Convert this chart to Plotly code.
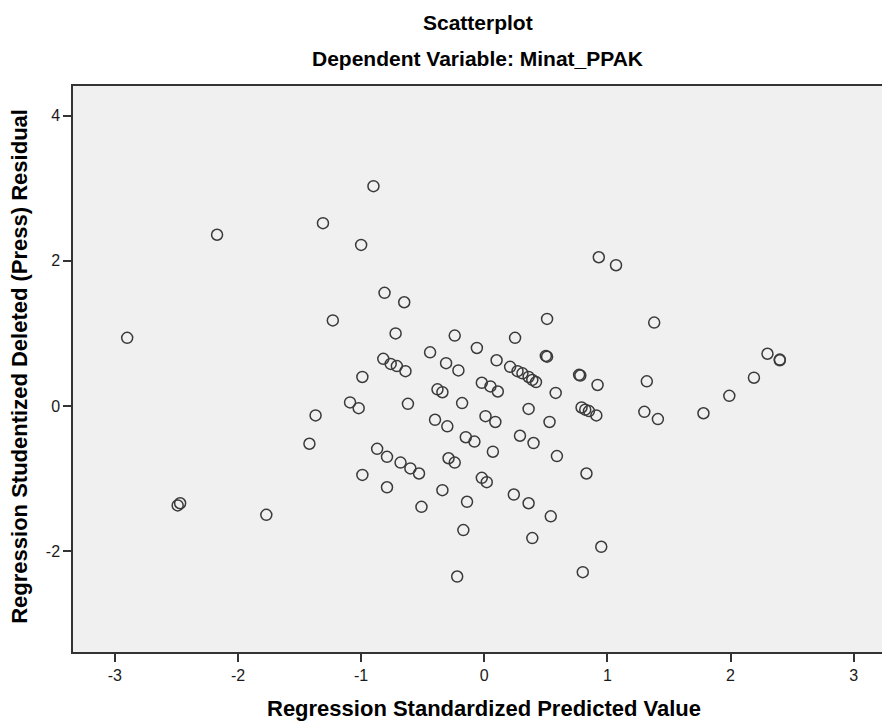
import plotly.graph_objects as go

# Regression Standardized Predicted Value
pred = [
    -2.90, -2.17, -1.31, -1.23, -0.90, -1.00, -0.81, -0.65, -0.72, -0.24,
    0.51, 0.25, -0.06, -0.44, 0.50, 0.51, 0.93, 1.07, 1.38, 2.30,
    2.40, 2.40, -1.37, -1.42, -2.49, -2.47, -1.77, -0.82, -0.76, -0.71,
    -0.64, -0.99, -0.31, -0.21, 0.10, 0.21, 0.27, 0.31, 0.36, 0.39,
    0.42, 0.58, -0.38, -0.34, -0.02, 0.05, 0.11, -1.09, -1.02, -0.62,
    -0.18, 0.36, -0.40, -0.30, 0.01, 0.09, 0.53, -0.15, -0.08, 0.29,
    0.40, 0.07, 0.59, -0.87, -0.79, -0.68, -0.60, -0.53, -0.99, -0.29,
    -0.24, -0.79, -0.02, 0.02, -0.34, -0.14, -0.51, 0.24, 0.36, 0.54,
    -0.17, 0.39, 0.77, 0.78, 0.92, 1.32, 2.19, 1.99, 0.79, 0.82,
    0.85, 0.91, 1.30, 1.41, 1.78, 0.83, 0.95, 0.80, -0.22,
]

# Regression Studentized Deleted (Press) Residual
resid = [
    0.94, 2.36, 2.52, 1.18, 3.03, 2.22, 1.56, 1.43, 1.00, 0.97,
    1.20, 0.94, 0.80, 0.74, 0.69, 0.68, 2.05, 1.94, 1.15, 0.72,
    0.64, 0.63, -0.13, -0.52, -1.37, -1.34, -1.50, 0.65, 0.58, 0.55,
    0.48, 0.40, 0.59, 0.49, 0.63, 0.54, 0.48, 0.45, 0.40, 0.36,
    0.33, 0.18, 0.23, 0.19, 0.32, 0.27, 0.20, 0.05, -0.03, 0.03,
    0.04, -0.04, -0.19, -0.28, -0.14, -0.22, -0.22, -0.43, -0.49, -0.41,
    -0.51, -0.63, -0.69, -0.59, -0.70, -0.78, -0.86, -0.93, -0.95, -0.72,
    -0.78, -1.12, -0.99, -1.05, -1.16, -1.32, -1.39, -1.22, -1.34, -1.52,
    -1.71, -1.82, 0.43, 0.42, 0.29, 0.34, 0.39, 0.14, -0.02, -0.05,
    -0.07, -0.13, -0.08, -0.18, -0.10, -0.93, -1.94, -2.29, -2.35,
]

x_ticks = [-3, -2, -1, 0, 1, 2, 3]
x_tick_labels = ["-3", "-2", "-1", "0", "1", "2", "3"]
y_ticks = [-2, 0, 2, 4]
y_tick_labels = ["-2", "0", "2", "4"]

title_main = "Scatterplot"
title_sub = "Dependent Variable: Minat_PPAK"
x_title = "Regression Standardized Predicted Value"
y_title = "Regression Studentized Deleted (Press) Residual"

FONT = "Liberation Sans, Arial, sans-serif"
LINE = "#333333"

fig = go.Figure(
    go.Scatter(
        x=pred, y=resid, mode="markers",
        marker=dict(symbol="circle-open", size=11,
                    line=dict(width=1.5, color="#3a3a3a"), color="#3a3a3a"),
        hoverinfo="x+y", showlegend=False,
    )
)

fig.update_layout(
    width=882, height=723,
    margin=dict(l=73, r=0, t=86, b=71),
    paper_bgcolor="white", plot_bgcolor="#f0f0f0",
    font=dict(family=FONT, color="#222222"),
    xaxis=dict(range=[-3.34, 3.23], tickvals=x_ticks, ticktext=x_tick_labels,
               ticks="outside", ticklen=8, tickwidth=1.5, tickcolor=LINE,
               showline=True, linecolor=LINE, linewidth=1.5, mirror=True,
               showgrid=False, zeroline=False,
               tickfont=dict(size=16, family=FONT, color="#1a1a1a")),
    yaxis=dict(range=[-3.39, 4.41], tickvals=y_ticks, ticktext=y_tick_labels,
               ticks="outside", ticklen=8, tickwidth=1.5, tickcolor=LINE,
               showline=True, linecolor=LINE, linewidth=1.5, mirror=False,
               showgrid=False, zeroline=False,
               tickfont=dict(size=16, family=FONT, color="#1a1a1a")),
    annotations=[
        dict(text="<b>%s</b>" % title_main, x=0.5, y=1.113, xref="paper", yref="paper",
             showarrow=False, xanchor="center", yanchor="middle",
             font=dict(size=21, family=FONT, color="#000000")),
        dict(text="<b>%s</b>" % title_sub, x=0.5, y=1.049, xref="paper", yref="paper",
             showarrow=False, xanchor="center", yanchor="middle",
             font=dict(size=21, family=FONT, color="#000000")),
        dict(text="<b>%s</b>" % x_title, x=0, y=-0.099, xref="x", yref="paper",
             showarrow=False, xanchor="center", yanchor="middle",
             font=dict(size=22, family=FONT, color="#000000")),
        dict(text="<b>%s</b>" % y_title, x=-0.066, y=0.505, xref="paper", yref="paper",
             showarrow=False, xanchor="center", yanchor="middle", textangle=-90,
             font=dict(size=22, family=FONT, color="#000000")),
    ],
)

fig.write_html(
    "out.html",
    config={"displayModeBar": False},
    post_script="document.body.style.margin='0';document.body.style.overflow='hidden';",
)
